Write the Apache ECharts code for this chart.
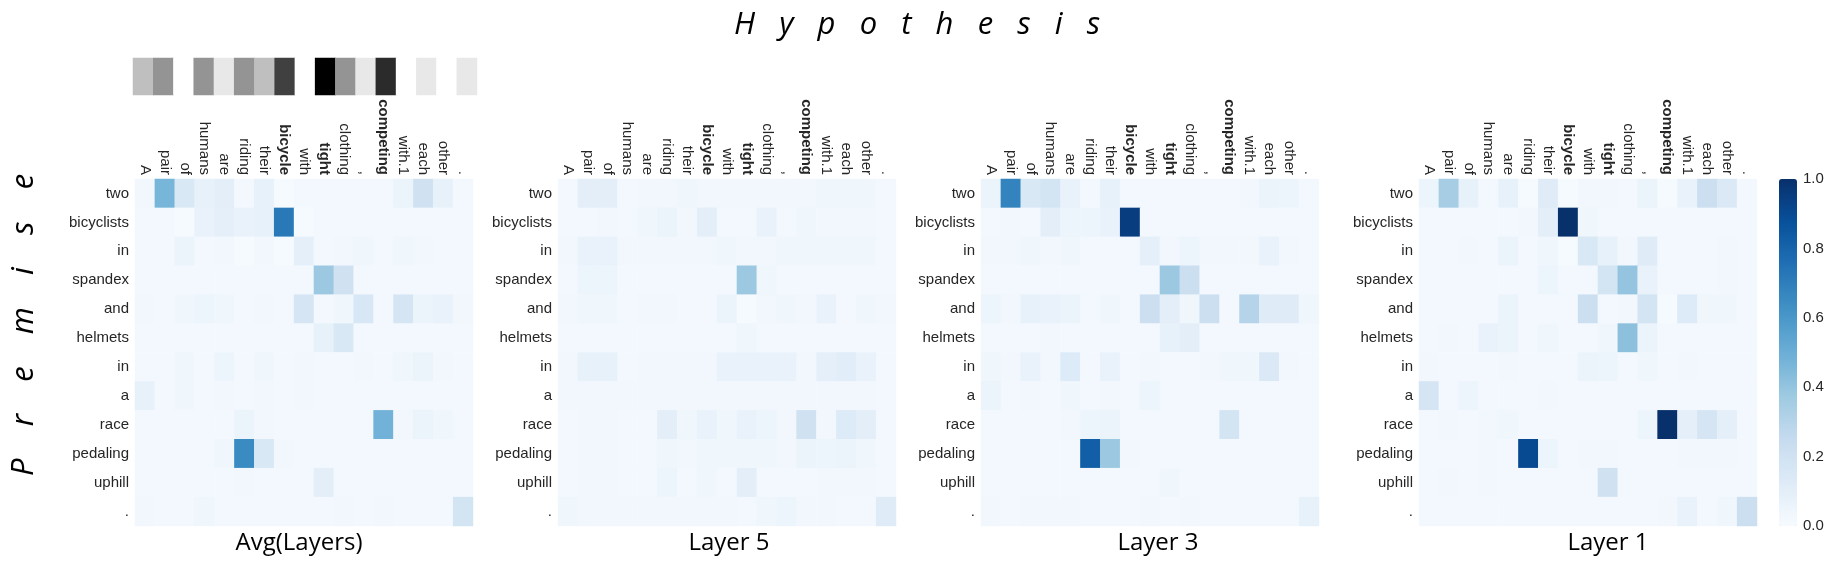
<!DOCTYPE html>
<head>
    <meta charset="utf-8">
    <title>Attention heatmaps</title>
    <script src="https://cdn.jsdelivr.net/npm/echarts@6/dist/echarts.min.js"></script>
    <style>
        body { margin: 0; background: #fff; }
    </style>
</head>
<body>
<div id="main" style="width:1830px;height:580px"></div>
<script type="text/javascript">
    // hypothesis words (columns) and premise words (rows)
    var hypWords = ['A', 'pair', 'of', 'humans', 'are', 'riding', 'their', 'bicycle', 'with', 'tight',
        'clothing', ',', 'competing', 'with.1', 'each', 'other', '.'];
    var boldWords = ['bicycle', 'tight', 'competing'];
    var premWords = ['two', 'bicyclists', 'in', 'spandex', 'and', 'helmets', 'in', 'a', 'race',
        'pedaling', 'uphill', '.'];

    // grey strip above the first panel (0 = white, 1 = black)
    var stripValues = [0.25, 0.42, 0, 0.42, 0.09, 0.42, 0.25, 0.75, 0, 1.0, 0.42, 0.09, 0.83, 0, 0.09, 0, 0.09];

    // one row per premise word, one value per hypothesis word
    var avgLayers = [
        [0.03, 0.47, 0.15, 0.08, 0.10, 0.02, 0.08, 0.01, 0.02, 0.02, 0.02, 0.02, 0.02, 0.06, 0.20, 0.08, 0.02],
        [0.02, 0.02, 0.01, 0.07, 0.09, 0.07, 0.08, 0.72, 0.01, 0.02, 0.02, 0.02, 0.02, 0.02, 0.02, 0.02, 0.02],
        [0.02, 0.02, 0.06, 0.02, 0.03, 0.01, 0.03, 0.01, 0.09, 0.02, 0.03, 0.04, 0.02, 0.04, 0.03, 0.02, 0.02],
        [0.02, 0.02, 0.02, 0.02, 0.02, 0.02, 0.02, 0.02, 0.02, 0.38, 0.20, 0.02, 0.02, 0.02, 0.02, 0.02, 0.02],
        [0.03, 0.02, 0.04, 0.05, 0.04, 0.02, 0.03, 0.02, 0.17, 0.02, 0.04, 0.16, 0.02, 0.17, 0.06, 0.07, 0.03],
        [0.02, 0.02, 0.02, 0.02, 0.02, 0.02, 0.02, 0.02, 0.02, 0.08, 0.15, 0.02, 0.02, 0.02, 0.02, 0.02, 0.02],
        [0.02, 0.02, 0.04, 0.02, 0.05, 0.02, 0.04, 0.02, 0.03, 0.02, 0.02, 0.03, 0.02, 0.04, 0.06, 0.03, 0.02],
        [0.08, 0.02, 0.04, 0.02, 0.03, 0.02, 0.03, 0.02, 0.03, 0.02, 0.02, 0.02, 0.02, 0.02, 0.02, 0.02, 0.02],
        [0.02, 0.02, 0.02, 0.02, 0.02, 0.06, 0.03, 0.02, 0.02, 0.02, 0.02, 0.02, 0.48, 0.03, 0.06, 0.04, 0.02],
        [0.02, 0.02, 0.02, 0.02, 0.04, 0.65, 0.15, 0.03, 0.02, 0.02, 0.02, 0.02, 0.02, 0.02, 0.02, 0.02, 0.02],
        [0.02, 0.02, 0.02, 0.02, 0.02, 0.03, 0.02, 0.02, 0.02, 0.10, 0.02, 0.02, 0.02, 0.02, 0.02, 0.02, 0.02],
        [0.03, 0.02, 0.02, 0.04, 0.02, 0.02, 0.02, 0.02, 0.02, 0.02, 0.03, 0.02, 0.03, 0.02, 0.02, 0.02, 0.18]
    ];
    var layer5 = [
        [0.02, 0.10, 0.10, 0.02, 0.03, 0.03, 0.04, 0.03, 0.03, 0.03, 0.03, 0.03, 0.03, 0.04, 0.04, 0.04, 0.02],
        [0.02, 0.02, 0.03, 0.02, 0.04, 0.06, 0.03, 0.10, 0.02, 0.02, 0.07, 0.02, 0.04, 0.03, 0.03, 0.03, 0.02],
        [0.03, 0.07, 0.07, 0.03, 0.03, 0.03, 0.03, 0.03, 0.04, 0.03, 0.03, 0.04, 0.04, 0.04, 0.04, 0.04, 0.02],
        [0.02, 0.05, 0.05, 0.02, 0.02, 0.02, 0.02, 0.02, 0.02, 0.38, 0.04, 0.02, 0.02, 0.02, 0.02, 0.02, 0.02],
        [0.03, 0.04, 0.04, 0.02, 0.03, 0.03, 0.02, 0.02, 0.06, 0.01, 0.03, 0.04, 0.03, 0.07, 0.02, 0.04, 0.03],
        [0.02, 0.02, 0.02, 0.02, 0.02, 0.02, 0.02, 0.02, 0.02, 0.04, 0.02, 0.02, 0.02, 0.02, 0.02, 0.02, 0.02],
        [0.03, 0.08, 0.08, 0.02, 0.03, 0.03, 0.03, 0.03, 0.07, 0.07, 0.07, 0.07, 0.03, 0.09, 0.11, 0.07, 0.02],
        [0.03, 0.03, 0.03, 0.03, 0.03, 0.03, 0.03, 0.03, 0.03, 0.03, 0.03, 0.03, 0.03, 0.03, 0.03, 0.03, 0.02],
        [0.02, 0.03, 0.03, 0.02, 0.02, 0.10, 0.04, 0.07, 0.04, 0.07, 0.05, 0.03, 0.20, 0.03, 0.13, 0.10, 0.02],
        [0.02, 0.03, 0.03, 0.02, 0.02, 0.04, 0.03, 0.04, 0.04, 0.04, 0.04, 0.03, 0.06, 0.05, 0.06, 0.04, 0.02],
        [0.02, 0.03, 0.03, 0.02, 0.02, 0.05, 0.02, 0.04, 0.02, 0.10, 0.02, 0.02, 0.02, 0.03, 0.03, 0.03, 0.02],
        [0.04, 0.03, 0.03, 0.03, 0.03, 0.03, 0.03, 0.03, 0.03, 0.02, 0.04, 0.05, 0.03, 0.03, 0.02, 0.02, 0.12]
    ];
    var layer3 = [
        [0.06, 0.68, 0.15, 0.18, 0.07, 0.02, 0.08, 0.02, 0.02, 0.02, 0.02, 0.02, 0.02, 0.03, 0.06, 0.05, 0.02],
        [0.02, 0.03, 0.02, 0.10, 0.05, 0.05, 0.07, 0.95, 0.02, 0.02, 0.02, 0.02, 0.02, 0.02, 0.02, 0.02, 0.02],
        [0.03, 0.03, 0.04, 0.03, 0.04, 0.02, 0.02, 0.02, 0.09, 0.03, 0.05, 0.03, 0.03, 0.03, 0.07, 0.03, 0.02],
        [0.02, 0.02, 0.02, 0.02, 0.02, 0.02, 0.02, 0.02, 0.02, 0.38, 0.22, 0.02, 0.02, 0.02, 0.02, 0.02, 0.02],
        [0.05, 0.03, 0.08, 0.07, 0.06, 0.02, 0.04, 0.02, 0.22, 0.10, 0.04, 0.22, 0.02, 0.30, 0.12, 0.12, 0.04],
        [0.02, 0.02, 0.02, 0.03, 0.02, 0.02, 0.02, 0.02, 0.02, 0.08, 0.10, 0.02, 0.02, 0.02, 0.02, 0.02, 0.02],
        [0.04, 0.03, 0.07, 0.03, 0.13, 0.02, 0.07, 0.02, 0.03, 0.02, 0.02, 0.03, 0.04, 0.04, 0.14, 0.03, 0.02],
        [0.06, 0.02, 0.03, 0.02, 0.04, 0.02, 0.03, 0.02, 0.05, 0.02, 0.02, 0.02, 0.02, 0.02, 0.02, 0.02, 0.02],
        [0.02, 0.02, 0.02, 0.02, 0.03, 0.05, 0.06, 0.02, 0.02, 0.02, 0.02, 0.02, 0.18, 0.02, 0.02, 0.02, 0.02],
        [0.02, 0.02, 0.02, 0.02, 0.02, 0.82, 0.38, 0.03, 0.02, 0.02, 0.02, 0.02, 0.02, 0.02, 0.02, 0.02, 0.02],
        [0.02, 0.02, 0.02, 0.02, 0.02, 0.02, 0.02, 0.02, 0.02, 0.04, 0.02, 0.02, 0.02, 0.02, 0.02, 0.02, 0.02],
        [0.03, 0.02, 0.03, 0.03, 0.03, 0.02, 0.02, 0.02, 0.03, 0.02, 0.03, 0.02, 0.02, 0.02, 0.02, 0.02, 0.08]
    ];
    var layer1 = [
        [0.05, 0.35, 0.08, 0.02, 0.08, 0.01, 0.12, 0.01, 0.03, 0.03, 0.02, 0.06, 0.01, 0.07, 0.22, 0.14, 0.02],
        [0.02, 0.02, 0.02, 0.02, 0.02, 0.03, 0.10, 1.00, 0.04, 0.02, 0.02, 0.02, 0.02, 0.02, 0.02, 0.02, 0.02],
        [0.02, 0.02, 0.03, 0.02, 0.06, 0.02, 0.04, 0.01, 0.15, 0.08, 0.03, 0.12, 0.02, 0.02, 0.02, 0.03, 0.02],
        [0.02, 0.02, 0.02, 0.02, 0.02, 0.02, 0.05, 0.02, 0.02, 0.18, 0.40, 0.07, 0.02, 0.02, 0.02, 0.03, 0.02],
        [0.02, 0.02, 0.02, 0.02, 0.06, 0.02, 0.02, 0.02, 0.22, 0.02, 0.03, 0.18, 0.01, 0.13, 0.04, 0.04, 0.02],
        [0.02, 0.03, 0.02, 0.07, 0.06, 0.02, 0.04, 0.02, 0.02, 0.04, 0.42, 0.06, 0.02, 0.02, 0.02, 0.02, 0.02],
        [0.03, 0.02, 0.02, 0.02, 0.03, 0.02, 0.02, 0.02, 0.06, 0.05, 0.02, 0.04, 0.02, 0.03, 0.02, 0.02, 0.02],
        [0.17, 0.02, 0.05, 0.02, 0.02, 0.02, 0.03, 0.02, 0.02, 0.02, 0.02, 0.02, 0.02, 0.02, 0.02, 0.02, 0.02],
        [0.02, 0.03, 0.02, 0.03, 0.04, 0.02, 0.02, 0.02, 0.02, 0.02, 0.02, 0.05, 1.00, 0.09, 0.17, 0.09, 0.02],
        [0.02, 0.02, 0.02, 0.03, 0.02, 0.90, 0.05, 0.02, 0.03, 0.03, 0.02, 0.02, 0.02, 0.03, 0.03, 0.03, 0.02],
        [0.02, 0.03, 0.02, 0.03, 0.02, 0.02, 0.02, 0.02, 0.02, 0.20, 0.02, 0.02, 0.02, 0.02, 0.02, 0.02, 0.02],
        [0.02, 0.02, 0.02, 0.02, 0.02, 0.02, 0.02, 0.02, 0.02, 0.02, 0.02, 0.02, 0.03, 0.07, 0.02, 0.04, 0.22]
    ];

    var panelNames = ['Avg(Layers)', 'Layer 5', 'Layer 3', 'Layer 1'];
    var panelData = [avgLayers, layer5, layer3, layer1];
    var colorTicks = [0, 0.2, 0.4, 0.6, 0.8, 1.0];

    // matplotlib "Blues"
    var blues = ['#f7fbff', '#deebf7', '#c6dbef', '#9ecae1', '#6baed6', '#4292c6', '#2171b5', '#08519c', '#08306b'];

    var panelLeft = [135, 558, 981, 1419];
    var panelTop = 179, panelW = 338, panelH = 347;
    var subtitleX = [299, 729, 1158, 1608];

    var labelFont = 'Liberation Sans, Arial, sans-serif';
    var labelColor = '#262626';

    var myChart;
    var option;

    window.onload = function () {
        myChart = echarts.init(document.getElementById('main'));
        initOption();
        myChart.setOption(option);
    };

    function toCells(matrix) {
        var d = [];
        for (var r = 0; r < matrix.length; r++) {
            for (var c = 0; c < matrix[r].length; c++) {
                d.push([c, r, matrix[r][c]]);
            }
        }
        return d;
    }

    function initOption() {
        var grids = [], xAxes = [], yAxes = [], series = [], graphics = [];

        for (var i = 0; i < 4; i++) {
            grids.push({left: panelLeft[i], top: panelTop, width: panelW, height: panelH});
            xAxes.push({
                gridIndex: i,
                type: 'category',
                position: 'top',
                data: hypWords,
                axisLine: {show: false},
                axisTick: {show: false},
                splitLine: {show: false},
                axisLabel: {
                    interval: 0,
                    rotate: 90,
                    margin: 4,
                    fontSize: 15,
                    fontFamily: labelFont,
                    color: labelColor,
                    formatter: function (v) {
                        return boldWords.indexOf(v) >= 0 ? '{b|' + v + '}' : v;
                    },
                    rich: {b: {fontWeight: 'bold', fontSize: 15, fontFamily: labelFont, color: labelColor}}
                }
            });
            yAxes.push({
                gridIndex: i,
                type: 'category',
                inverse: true,
                data: premWords,
                axisLine: {show: false},
                axisTick: {show: false},
                splitLine: {show: false},
                axisLabel: {interval: 0, margin: 6, fontSize: 15, fontFamily: labelFont, color: labelColor}
            });
            series.push({
                name: panelNames[i],
                type: 'heatmap',
                xAxisIndex: i,
                yAxisIndex: i,
                data: toCells(panelData[i]),
                itemStyle: {borderWidth: 0},
                emphasis: {disabled: true}
            });
            graphics.push({
                type: 'text',
                x: subtitleX[i],
                y: 543,
                style: {text: panelNames[i], font: '24px "Open Sans"', fill: '#000', align: 'center', verticalAlign: 'middle'}
            });
        }

        // grey importance strip
        grids.push({left: 133, top: 58, width: 344, height: 37});
        xAxes.push({gridIndex: 4, type: 'category', data: hypWords, show: false});
        yAxes.push({gridIndex: 4, type: 'category', data: [''], show: false});
        series.push({
            type: 'heatmap',
            xAxisIndex: 4,
            yAxisIndex: 4,
            data: stripValues.map(function (v, k) { return [k, 0, v]; }),
            itemStyle: {borderWidth: 0},
            emphasis: {disabled: true}
        });

        // colour bar tick labels
        grids.push({left: 1779, top: panelTop, width: 18, height: panelH});
        xAxes.push({gridIndex: 5, type: 'category', data: [''], show: false});
        yAxes.push({
            gridIndex: 5,
            type: 'value',
            position: 'right',
            min: 0,
            max: 1,
            interval: 0.2,
            axisLine: {show: false},
            axisTick: {show: false},
            splitLine: {show: false},
            axisLabel: {
                margin: 6, fontSize: 15, fontFamily: labelFont, color: labelColor,
                formatter: function (v) { return v.toFixed(1); }
            }
        });

        graphics.push({
            type: 'text',
            x: 917,
            y: 25,
            style: {text: 'H   y   p   o   t   h   e   s   i   s', font: 'italic 31px "Open Sans"', fill: '#000', align: 'center', verticalAlign: 'middle'}
        });
        graphics.push({
            type: 'text',
            x: 24,
            y: 325,
            rotation: Math.PI / 2,
            style: {text: 'P    r    e    m    i    s    e', font: 'italic 31px "Open Sans"', fill: '#000', align: 'center', verticalAlign: 'middle'}
        });

        option = {
            animation: false,
            backgroundColor: '#fff',
            grid: grids,
            xAxis: xAxes,
            yAxis: yAxes,
            visualMap: [
                {
                    type: 'continuous',
                    min: 0,
                    max: 1,
                    seriesIndex: [0, 1, 2, 3],
                    calculable: false,
                    hoverLink: false,
                    left: 1779,
                    top: panelTop,
                    padding: 0,
                    itemWidth: 18,
                    itemHeight: panelH,
                    inRange: {color: blues}
                },
                {
                    type: 'continuous',
                    min: 0,
                    max: 1,
                    seriesIndex: 4,
                    show: false,
                    inRange: {color: ['#ffffff', '#000000']}
                }
            ],
            series: series,
            graphic: graphics
        };
    }
</script>
</body>
